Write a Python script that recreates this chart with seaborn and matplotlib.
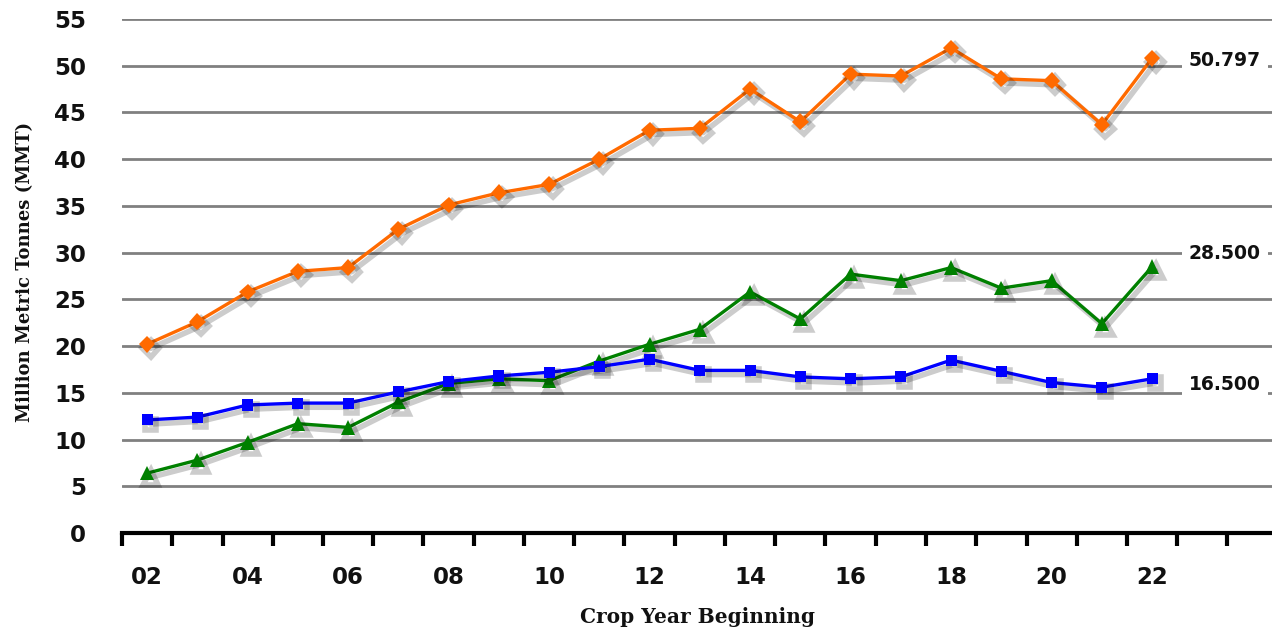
import numpy as np
import pandas as pd
import matplotlib
matplotlib.use("Agg")
import matplotlib.pyplot as plt
import matplotlib.patheffects as pe
import seaborn as sns

# Crop years (two-digit labels) and values in million metric tonnes
years = list(range(2, 23))
orange_vals = [20.2, 22.6, 25.8, 28.0, 28.4, 32.5, 35.1, 36.4, 37.3, 40.0, 43.1,
               43.3, 47.5, 44.0, 49.1, 48.9, 51.9, 48.6, 48.4, 43.7, 50.797]
green_vals = [6.4, 7.8, 9.7, 11.7, 11.3, 14.0, 16.0, 16.5, 16.3, 18.4, 20.2,
              21.8, 25.8, 22.9, 27.7, 27.0, 28.4, 26.2, 27.0, 22.4, 28.5]
blue_vals = [12.1, 12.4, 13.7, 13.9, 13.9, 15.1, 16.2, 16.8, 17.2, 17.8, 18.6,
             17.4, 17.4, 16.7, 16.5, 16.7, 18.5, 17.3, 16.1, 15.6, 16.5]
end_labels = ["50.797", "28.500", "16.500"]
end_label_y = [50.6, 29.9, 15.9]
tick_years = list(range(2, 23, 2))
tick_labels = [f"{y:02d}" for y in tick_years]
y_ticks = list(range(0, 60, 5))

sns.set_style("white")

fig = plt.figure(figsize=(12.72, 6.30), dpi=100)
ax = fig.add_axes([122 / 1272, 1 - 533 / 630, 1 - 122 / 1272, (533 - 19) / 630])

shadow = [pe.SimpleLineShadow(offset=(2.5, -3), shadow_color="black", alpha=0.2,
                              linewidth=4),
          pe.Normal()]

series = [
    (orange_vals, "#FF6A00", "D", 8.5),
    (green_vals, "#008000", "^", 10.5),
    (blue_vals, "#0000FF", "s", 8),
]
for vals, color, marker, ms in series:
    df = pd.DataFrame({"year": years, "value": vals})
    sns.lineplot(data=df, x="year", y="value", ax=ax, color=color, marker=marker,
                 markersize=ms, markeredgewidth=0, linewidth=2.4,
                 path_effects=shadow, zorder=3)

ax.set_xlim(1.5, 1.5 + 1150 / 50.25)
ax.set_ylim(0, 55)

# gridlines at each y tick (not at 0)
for yv in y_ticks[1:]:
    ax.axhline(yv, color="#808080", linewidth=2, zorder=1)

for sp in ["top", "right", "left"]:
    ax.spines[sp].set_visible(False)
ax.spines["bottom"].set_color("black")
ax.spines["bottom"].set_linewidth(3)
ax.spines["bottom"].set_zorder(5)

ax.set_yticks(y_ticks)
ax.set_yticklabels([str(v) for v in y_ticks])
ax.set_xticks(tick_years)
ax.set_xticklabels(tick_labels)
ax.set_xticks(np.arange(1.5, 24.5, 1), minor=True)
ax.tick_params(axis="x", which="major", bottom=True, length=0, pad=24)
ax.tick_params(axis="x", which="minor", bottom=True, length=9, width=3,
               color="black", direction="out")
ax.tick_params(axis="y", left=True, length=0, pad=26)
for lab in ax.get_xticklabels() + ax.get_yticklabels():
    lab.set_fontfamily("DejaVu Sans")
    lab.set_fontweight("bold")
    lab.set_fontsize(16.5)
    lab.set_color("#111111")

ax.set_xlabel("")
ax.set_ylabel("")
fig.text(25 / 1272, 1 - 272 / 630, "Million Metric Tonnes (MMT)", rotation=90,
         ha="center", va="center", fontfamily="DejaVu Serif", fontweight="bold",
         fontsize=13, color="#111111")
fig.text(697 / 1272, 1 - 617 / 630, "Crop Year Beginning", ha="center", va="center",
         fontfamily="DejaVu Serif", fontweight="bold", fontsize=14.5, color="#111111")

# end-of-series value labels
for txt, yv in zip(end_labels, end_label_y):
    ax.text(23.45, yv, txt, ha="center", va="center", fontfamily="DejaVu Sans",
            fontweight="bold", fontsize=13.5, color="#111111", zorder=4,
            bbox=dict(facecolor="white", edgecolor="none", pad=5))

fig.savefig("out.png", dpi=100)
